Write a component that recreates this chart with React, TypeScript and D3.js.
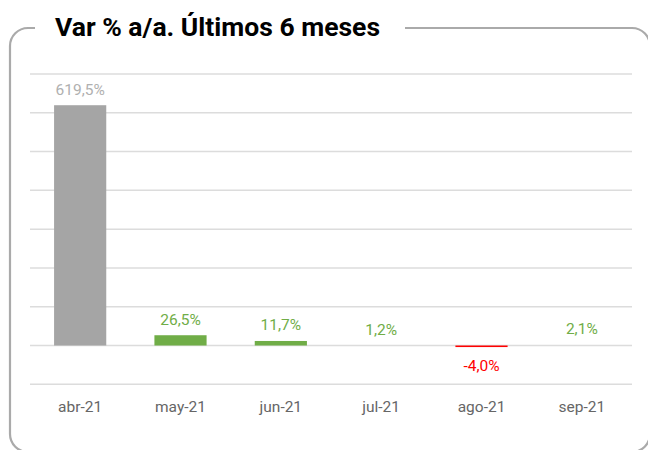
import React from "react";
import * as d3 from "d3";

const months = ["abr-21", "may-21", "jun-21", "jul-21", "ago-21", "sep-21"];
const varPct = [619.5, 26.5, 11.7, 1.2, -4.0, 2.1];
const gridTicks = [-100, 0, 100, 200, 300, 400, 500, 600, 700];

const GRAY = "#a5a5a5";
const GREEN = "#70ad47";
const RED = "#ff0000";

const locale = d3.formatLocale({ decimal: ",", thousands: ".", grouping: [3], currency: ["", "€"], minus: "-" });
const fmt = locale.format(".1f");

const W = 648;
const H = 450;

const App = () => {
  const x = d3.scaleBand<string>().domain(months).range([30, 632]).paddingInner(0.48).paddingOuter(0.24);
  const y = d3.scaleLinear().domain([-100, 700]).range([384.3, 74]);

  const barColor = (v: number, i: number) => (i === 0 ? GRAY : v < 0 ? RED : GREEN);

  return (
    <svg
      width={W}
      height={H}
      style={{ position: "absolute", left: 0, top: 0, fontFamily: "Roboto, sans-serif" }}
    >
      <rect x={0} y={0} width={W} height={H} fill="#fff" />
      {/* frame */}
      <rect x={10} y={28} width={640} height={424} rx={18} fill="none" stroke="#aaaaaa" strokeWidth={2.2} />
      <rect x={35} y={18} width={370} height={20} fill="#fff" />
      <text x={55} y={35.5} fontSize={26.5} fontWeight={700} fill="#000">
        Var % a/a. Últimos 6 meses
      </text>

      {/* gridlines */}
      {gridTicks.map((t) => (
        <line key={t} x1={30} x2={632} y1={y(t)} y2={y(t)} stroke="#dcdcdc" strokeWidth={1.5} />
      ))}

      {/* bars */}
      {varPct.map((v, i) => {
        const y0 = y(0);
        const yv = y(v);
        const h = Math.abs(yv - y0);
        if (h < 1) return null;
        return (
          <rect
            key={months[i]}
            x={x(months[i])}
            width={x.bandwidth()}
            y={Math.min(y0, yv)}
            height={h}
            fill={barColor(v, i)}
          />
        );
      })}

      {/* value labels */}
      {varPct.map((v, i) => (
        <text
          key={"l" + months[i]}
          x={(x(months[i]) || 0) + x.bandwidth() / 2}
          y={v >= 0 ? y(v) - 10.5 : y(v) + 24}
          textAnchor="middle"
          fontSize={15.5}
          fill={i === 0 ? "#b0b0b0" : barColor(v, i)}
        >
          {fmt(v)}%
        </text>
      ))}

      {/* x axis labels */}
      {months.map((m) => (
        <text
          key={"t" + m}
          x={(x(m) || 0) + x.bandwidth() / 2}
          y={411.5}
          textAnchor="middle"
          fontSize={15.5}
          fill="#666666"
        >
          {m}
        </text>
      ))}
    </svg>
  );
};

export default App;
